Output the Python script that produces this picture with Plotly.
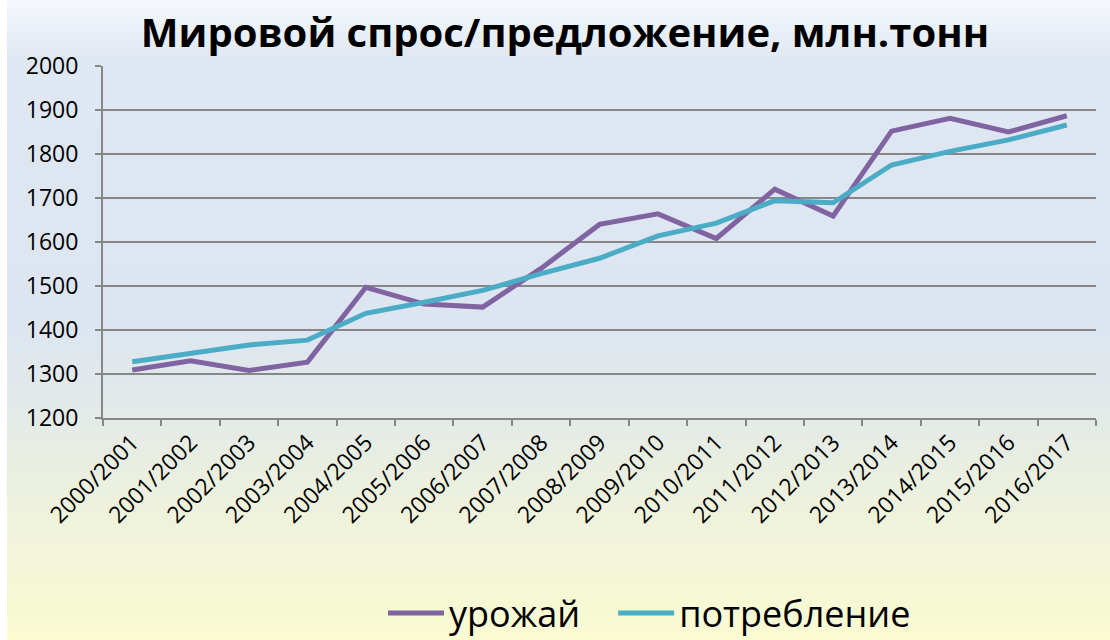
import plotly.graph_objects as go

categories = ["2000/2001", "2001/2002", "2002/2003", "2003/2004", "2004/2005",
              "2005/2006", "2006/2007", "2007/2008", "2008/2009", "2009/2010",
              "2010/2011", "2011/2012", "2012/2013", "2013/2014", "2014/2015",
              "2015/2016", "2016/2017"]
harvest = [1309, 1330, 1308, 1327, 1497, 1459, 1452, 1540, 1640, 1664,
           1608, 1720, 1659, 1852, 1881, 1850, 1887]
consumption = [1328, 1347, 1366, 1377, 1438, 1463, 1490, 1528, 1563, 1614,
               1643, 1694, 1689, 1775, 1806, 1832, 1866]
y_ticks = [1200, 1300, 1400, 1500, 1600, 1700, 1800, 1900, 2000]

W, H = 1110, 640
L, R, T, B = 103, 1096, 66, 418
PW, PH = R - L, B - T

# background gradient stops (pixel y, rgb)
stops = [(0, (246, 249, 253)), (60, (223, 231, 242)), (330, (221, 230, 240)),
         (420, (228, 234, 231)), (520, (239, 243, 219)), (640, (250, 251, 210))]


def col_at(py):
    for (y0, c0), (y1, c1) in zip(stops[:-1], stops[1:]):
        if y0 <= py <= y1:
            t = (py - y0) / (y1 - y0)
            return "rgb(%d,%d,%d)" % tuple(round(a + (b - a) * t) for a, b in zip(c0, c1))
    return "rgb(%d,%d,%d)" % stops[-1][1]


def px2x(px):
    return (px - L) / PW


def py2y(py):
    return (B - py) / PH


shapes = []
n = 80
step = H / n
for i in range(n):
    y0p = i * step
    y1p = (i + 1) * step + 0.6
    shapes.append(dict(type="rect", xref="paper", yref="paper", layer="below",
                       x0=px2x(7), x1=px2x(W + 5), y0=py2y(y1p), y1=py2y(y0p),
                       fillcolor=col_at(y0p + step / 2), line=dict(width=0)))

NB = "\u00a0"
fig = go.Figure()
fig.add_trace(go.Scatter(x=categories, y=harvest, mode="lines", name="урожай" + NB * 3,
                         line=dict(color="#8064a2", width=5)))
fig.add_trace(go.Scatter(x=categories, y=consumption, mode="lines", name="потребление",
                         line=dict(color="#4bacc6", width=5)))

font_family = "Open Sans, DejaVu Sans, sans-serif"

fig.update_layout(
    width=W, height=H,
    margin=dict(l=L, r=W - R, t=T, b=H - B, pad=0, autoexpand=False),
    paper_bgcolor="white",
    plot_bgcolor="rgba(0,0,0,0)",
    shapes=shapes,
    title=dict(text="<b>Мировой спрос/предложение, млн.тонн</b>",
               font=dict(family=font_family, size=40, color="black"),
               x=px2x(565), xref="paper", xanchor="center", y=1 - 33 / H, yanchor="middle"),
    font=dict(family=font_family, color="black"),
    showlegend=True,
    legend=dict(orientation="h", x=px2x(383), xanchor="left",
                y=py2y(613), yanchor="middle",
                font=dict(family=font_family, size=36, color="black"),
                bgcolor="rgba(0,0,0,0)", itemwidth=56,
                traceorder="normal"),
    xaxis=dict(type="category", tickangle=-45, showgrid=False,
               showline=True, linecolor="#878787", linewidth=2,
               ticks="outside", ticklen=6, tickwidth=2, tickcolor="#878787",
               tickson="boundaries", range=[-0.5, len(categories) - 0.5],
               tickfont=dict(family=font_family, size=23, color="black"),
               automargin=False, fixedrange=True),
    yaxis=dict(range=[1200, 2000], tickvals=y_ticks, showgrid=True,
               gridcolor="#878787", gridwidth=2, zeroline=False,
               showline=True, linecolor="#878787", linewidth=2,
               ticks="outside", ticklen=6, tickwidth=2, tickcolor="#878787",
               ticklabelstandoff=12,
               tickfont=dict(family=font_family, size=23, color="black"),
               automargin=False, fixedrange=True),
)

fig.write_html("out.html", config={"displayModeBar": False},
               post_script="document.body.style.margin='0';document.body.style.overflow='hidden';")
